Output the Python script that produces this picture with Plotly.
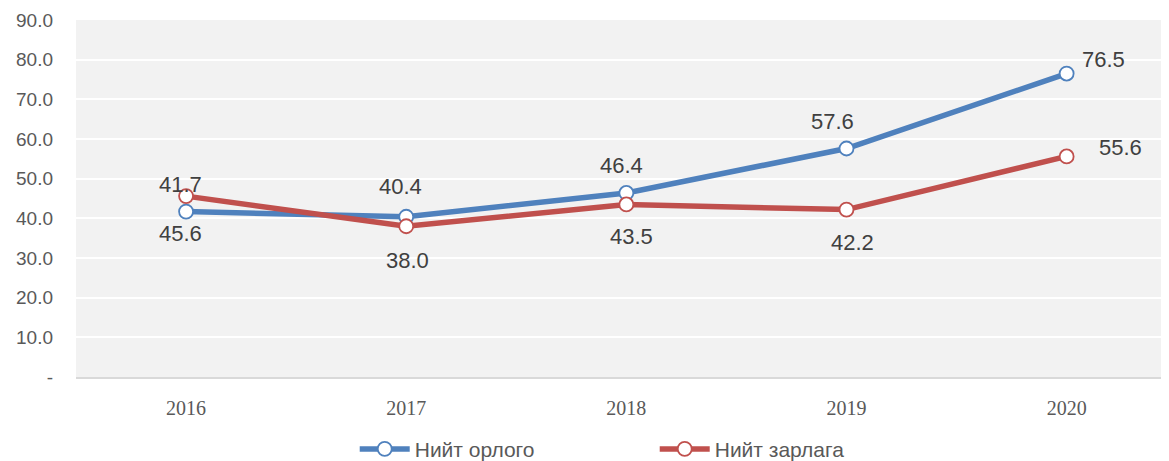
import plotly.graph_objects as go

years = ["2016", "2017", "2018", "2019", "2020"]
income = [41.7, 40.4, 46.4, 57.6, 76.5]      # Нийт орлого
expense = [45.6, 38.0, 43.5, 42.2, 55.6]     # Нийт зарлага
y_ticks = [0, 10, 20, 30, 40, 50, 60, 70, 80, 90]
y_ticktext = ["-", "10.0", "20.0", "30.0", "40.0", "50.0", "60.0", "70.0", "80.0", "90.0"]
names = ["Нийт орлого", "Нийт зарлага"]

BLUE = "#4F81BD"
RED = "#C0504D"

# label offsets (style)
blue_off = [(-6, 27), (-6, 30), (-5, 27), (-14, 27), (37, 14)]
red_off = [(-6, -37), (1, -34), (5, -32), (6, -33), (54, 9)]

fig = go.Figure()
for vals, col, nm in [(income, BLUE, names[0]), (expense, RED, names[1])]:
    fig.add_trace(go.Scatter(
        x=years, y=vals, name=nm, mode="lines+markers",
        line=dict(color=col, width=5.5),
        marker=dict(symbol="circle", size=14, color="white",
                    line=dict(color=col, width=1.8)),
    ))

anns = []
for vals, offs in [(income, blue_off), (expense, red_off)]:
    for i, (v, (dx, dy)) in enumerate(zip(vals, offs)):
        anns.append(dict(x=i, y=v, xref="x", yref="y", text=f"{v:.1f}",
                         showarrow=False, xshift=dx, yshift=dy,
                         font=dict(family="Liberation Sans, Arial", size=22, color="#404040")))

fig.update_layout(
    width=1161, height=490,
    margin=dict(l=68, r=0, t=12, b=121),
    paper_bgcolor="white", plot_bgcolor="#F2F2F2",
    annotations=anns,
    showlegend=True,
    legend=dict(orientation="h", x=0.255, xanchor="left", y=-0.145, yanchor="top",
                entrywidth=235, entrywidthmode="pixels",
                font=dict(family="Liberation Sans, Arial", size=21, color="#595959"),
                itemwidth=50, tracegroupgap=0),
    xaxis=dict(type="category", range=[-0.5, 4.465], showgrid=False,
               showline=True, linecolor="#D9D9D9", linewidth=2,
               tickfont=dict(family="Liberation Serif, Times New Roman", size=20, color="#595959"),
               ticks="", ticklabelstandoff=12, fixedrange=True, automargin=False),
    yaxis=dict(range=[0, 90], tickvals=y_ticks, ticktext=y_ticktext,
               showgrid=True, gridcolor="white", gridwidth=1.5,
               zeroline=False, showline=False,
               tickfont=dict(family="Liberation Sans, Arial", size=19, color="#595959"),
               ticks="", ticklabelstandoff=22, automargin=False),
)

fig.write_html("out.html")
